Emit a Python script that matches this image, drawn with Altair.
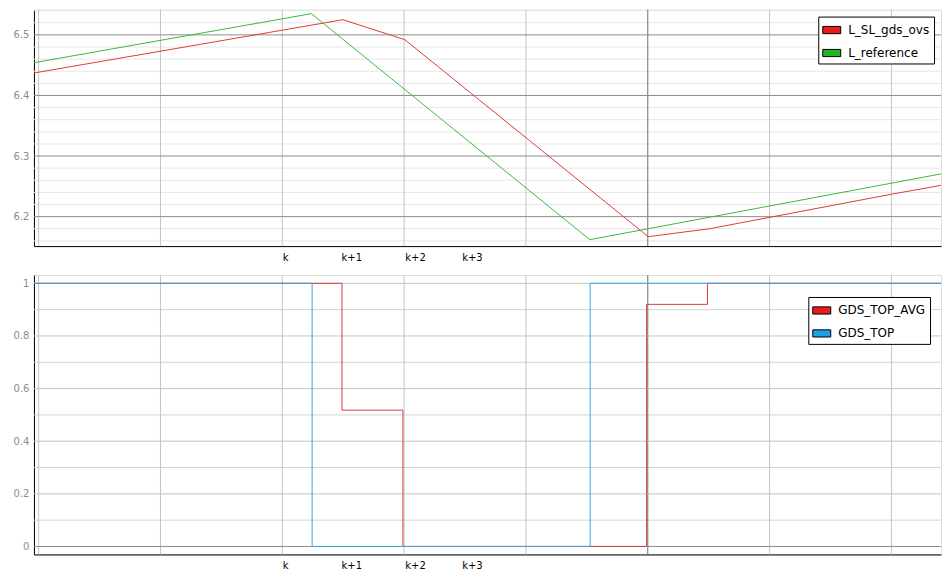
import altair as alt
import pandas as pd

# ---------------- data ----------------
# time axis: one unit = one vertical grid interval
grid_t = [0, 1, 2, 3, 4, 5, 6, 7]
dark_grid_t = 5
x_domain = [-0.0385, 7.407]

x_label_pos = [2.0, 2.482, 3.006, 3.473]
x_label_text = ["k", "k+1", "k+2", "k+3"]

# top panel
top_series = ["L_SL_gds_ovs", "L_reference"]
ovs_t = [-0.04, 2.498, 3.006, 5.004, 5.507, 6.004, 7.0, 7.472]
ovs_v = [6.437, 6.525, 6.492, 6.167, 6.180, 6.199, 6.237, 6.254]
ref_t = [-0.04, 2.239, 4.524, 7.472]
ref_v = [6.454, 6.535, 6.162, 6.273]
top_ticks = [6.2, 6.3, 6.4, 6.5]
top_minor = [6.16, 6.18, 6.22, 6.24, 6.26, 6.28, 6.32, 6.34, 6.36, 6.38,
             6.42, 6.44, 6.46, 6.48, 6.52, 6.54]
top_y_domain = [6.1514, 6.5417]

# bottom panel
bot_series = ["GDS_TOP_AVG", "GDS_TOP"]
avg_t = [-0.04, 2.49, 2.99, 4.99, 5.49, 7.472]
avg_v = [1, 0.518, 0, 0.92, 1, 1]
gtop_t = [-0.04, 2.245, 4.527, 7.472]
gtop_v = [1, 0, 1, 1]
bot_ticks = [0, 0.2, 0.4, 0.6, 0.8, 1]
bot_minor = [0.1, 0.3, 0.5, 0.7, 0.9]
bot_y_domain = [-0.0303, 1.0315]

# colours
red_line, green_line, blue_line = "#e03a3a", "#3cb83c", "#3aa6dc"
red_sw, green_sw, blue_sw = "#ee1b1b", "#22b422", "#1ba0e4"

FONT = "DejaVu Sans"
W = 909

xscale = alt.Scale(domain=x_domain, nice=False, zero=False)


def label_expr():
    parts = []
    for p, s in zip(x_label_pos, x_label_text):
        parts.append(f"abs(datum.value - {p}) < 0.01 ? '{s}' : ")
    return "".join(parts) + "''"


x_axis = alt.Axis(values=x_label_pos, labelExpr=label_expr(), grid=False,
                  ticks=False, tickSize=0, domainColor="black", domainWidth=1,
                  labelAlign="left", labelBaseline="top", labelFlush=False,
                  labelOverlap=False, labelFont=FONT, labelFontSize=10,
                  labelColor="black", labelPadding=6, title=None)


def y_axis(ticks, fmt):
    return alt.Axis(values=ticks, format=fmt, grid=False, ticks=False,
                    tickSize=0, domainColor="black", domainWidth=1,
                    labelFont=FONT, labelFontSize=10, labelColor="#8c8c8c",
                    labelPadding=5, title=None)


def legend(x, y):
    return alt.Legend(title=None, orient="none", legendX=x, legendY=y,
                      symbolType="M-1,-0.4H1V0.4H-1Z", symbolSize=324,
                      symbolStrokeColor="black", symbolStrokeWidth=1,
                      symbolOpacity=1, labelFont=FONT, labelFontSize=12,
                      labelColor="black", labelOffset=7, rowPadding=7,
                      padding=4, strokeColor="black", fillColor="white",
                      cornerRadius=0, labelLimit=0)


def panel(height, yscale, ticks, fmt, minor, minor_color, major_color,
          lines, series, swatches, leg_xy, zero_dark=None):
    yax = y_axis(ticks, fmt)
    layers = []
    layers.append(
        alt.Chart(pd.DataFrame({"v": minor})).mark_rule(
            color=minor_color, strokeWidth=1).encode(
            y=alt.Y("v:Q", scale=yscale, axis=yax)))
    layers.append(
        alt.Chart(pd.DataFrame({"t": grid_t})).mark_rule(strokeWidth=1).encode(
            x=alt.X("t:Q", scale=xscale, axis=x_axis),
            color=alt.condition(alt.datum.t == dark_grid_t,
                                alt.value("#6e6e6e"), alt.value("#c4c4c4"))))
    if zero_dark is None:
        layers.append(
            alt.Chart(pd.DataFrame({"v": ticks})).mark_rule(
                color=major_color, strokeWidth=1).encode(
                y=alt.Y("v:Q", scale=yscale, axis=yax)))
    else:
        layers.append(
            alt.Chart(pd.DataFrame({"v": ticks})).mark_rule(strokeWidth=1).encode(
                y=alt.Y("v:Q", scale=yscale, axis=yax),
                color=alt.condition(alt.datum.v == 0, alt.value(zero_dark),
                                    alt.value(major_color))))
    for (tt, vv, col, interp) in lines:
        df = pd.DataFrame({"t": tt, "v": vv})
        layers.append(alt.Chart(df).mark_line(
            clip=True, strokeWidth=1, color=col, interpolate=interp).encode(
            x=alt.X("t:Q", scale=xscale, axis=x_axis),
            y=alt.Y("v:Q", scale=yscale, axis=yax)))
    leg_df = pd.DataFrame({"series": series})
    layers.append(
        alt.Chart(leg_df).transform_filter("false").mark_point(
            filled=True, opacity=1, size=324).encode(
            fill=alt.Fill("series:N",
                          scale=alt.Scale(domain=series, range=swatches),
                          legend=legend(*leg_xy))))
    return alt.layer(*layers).properties(width=W, height=height)


top = panel(
    237,
    alt.Scale(domain=top_y_domain, nice=False, zero=False),
    top_ticks, ".1f", top_minor, "#e6e6e6", "#8c8c8c",
    [(ovs_t, ovs_v, red_line, "linear"), (ref_t, ref_v, green_line, "linear")],
    top_series, [red_sw, green_sw], (786, 7))

bottom = panel(
    280,
    alt.Scale(domain=bot_y_domain, nice=False, zero=False),
    bot_ticks, "~g", bot_minor, "#d2d2d2", "#c4c4c4",
    [(avg_t, avg_v, red_line, "step-after"),
     (gtop_t, gtop_v, blue_line, "step-after")],
    bot_series, [red_sw, blue_sw], (776, 22), zero_dark="#8c8c8c")

chart = alt.vconcat(top, bottom, spacing=11).resolve_scale(
    y="independent", fill="independent"
).properties(
    padding={"left": 4, "top": 0, "right": 0, "bottom": 0}
).configure_view(stroke=None).configure(background="white")

chart.save("out.html", embed_options={"renderer": "svg", "actions": False})
